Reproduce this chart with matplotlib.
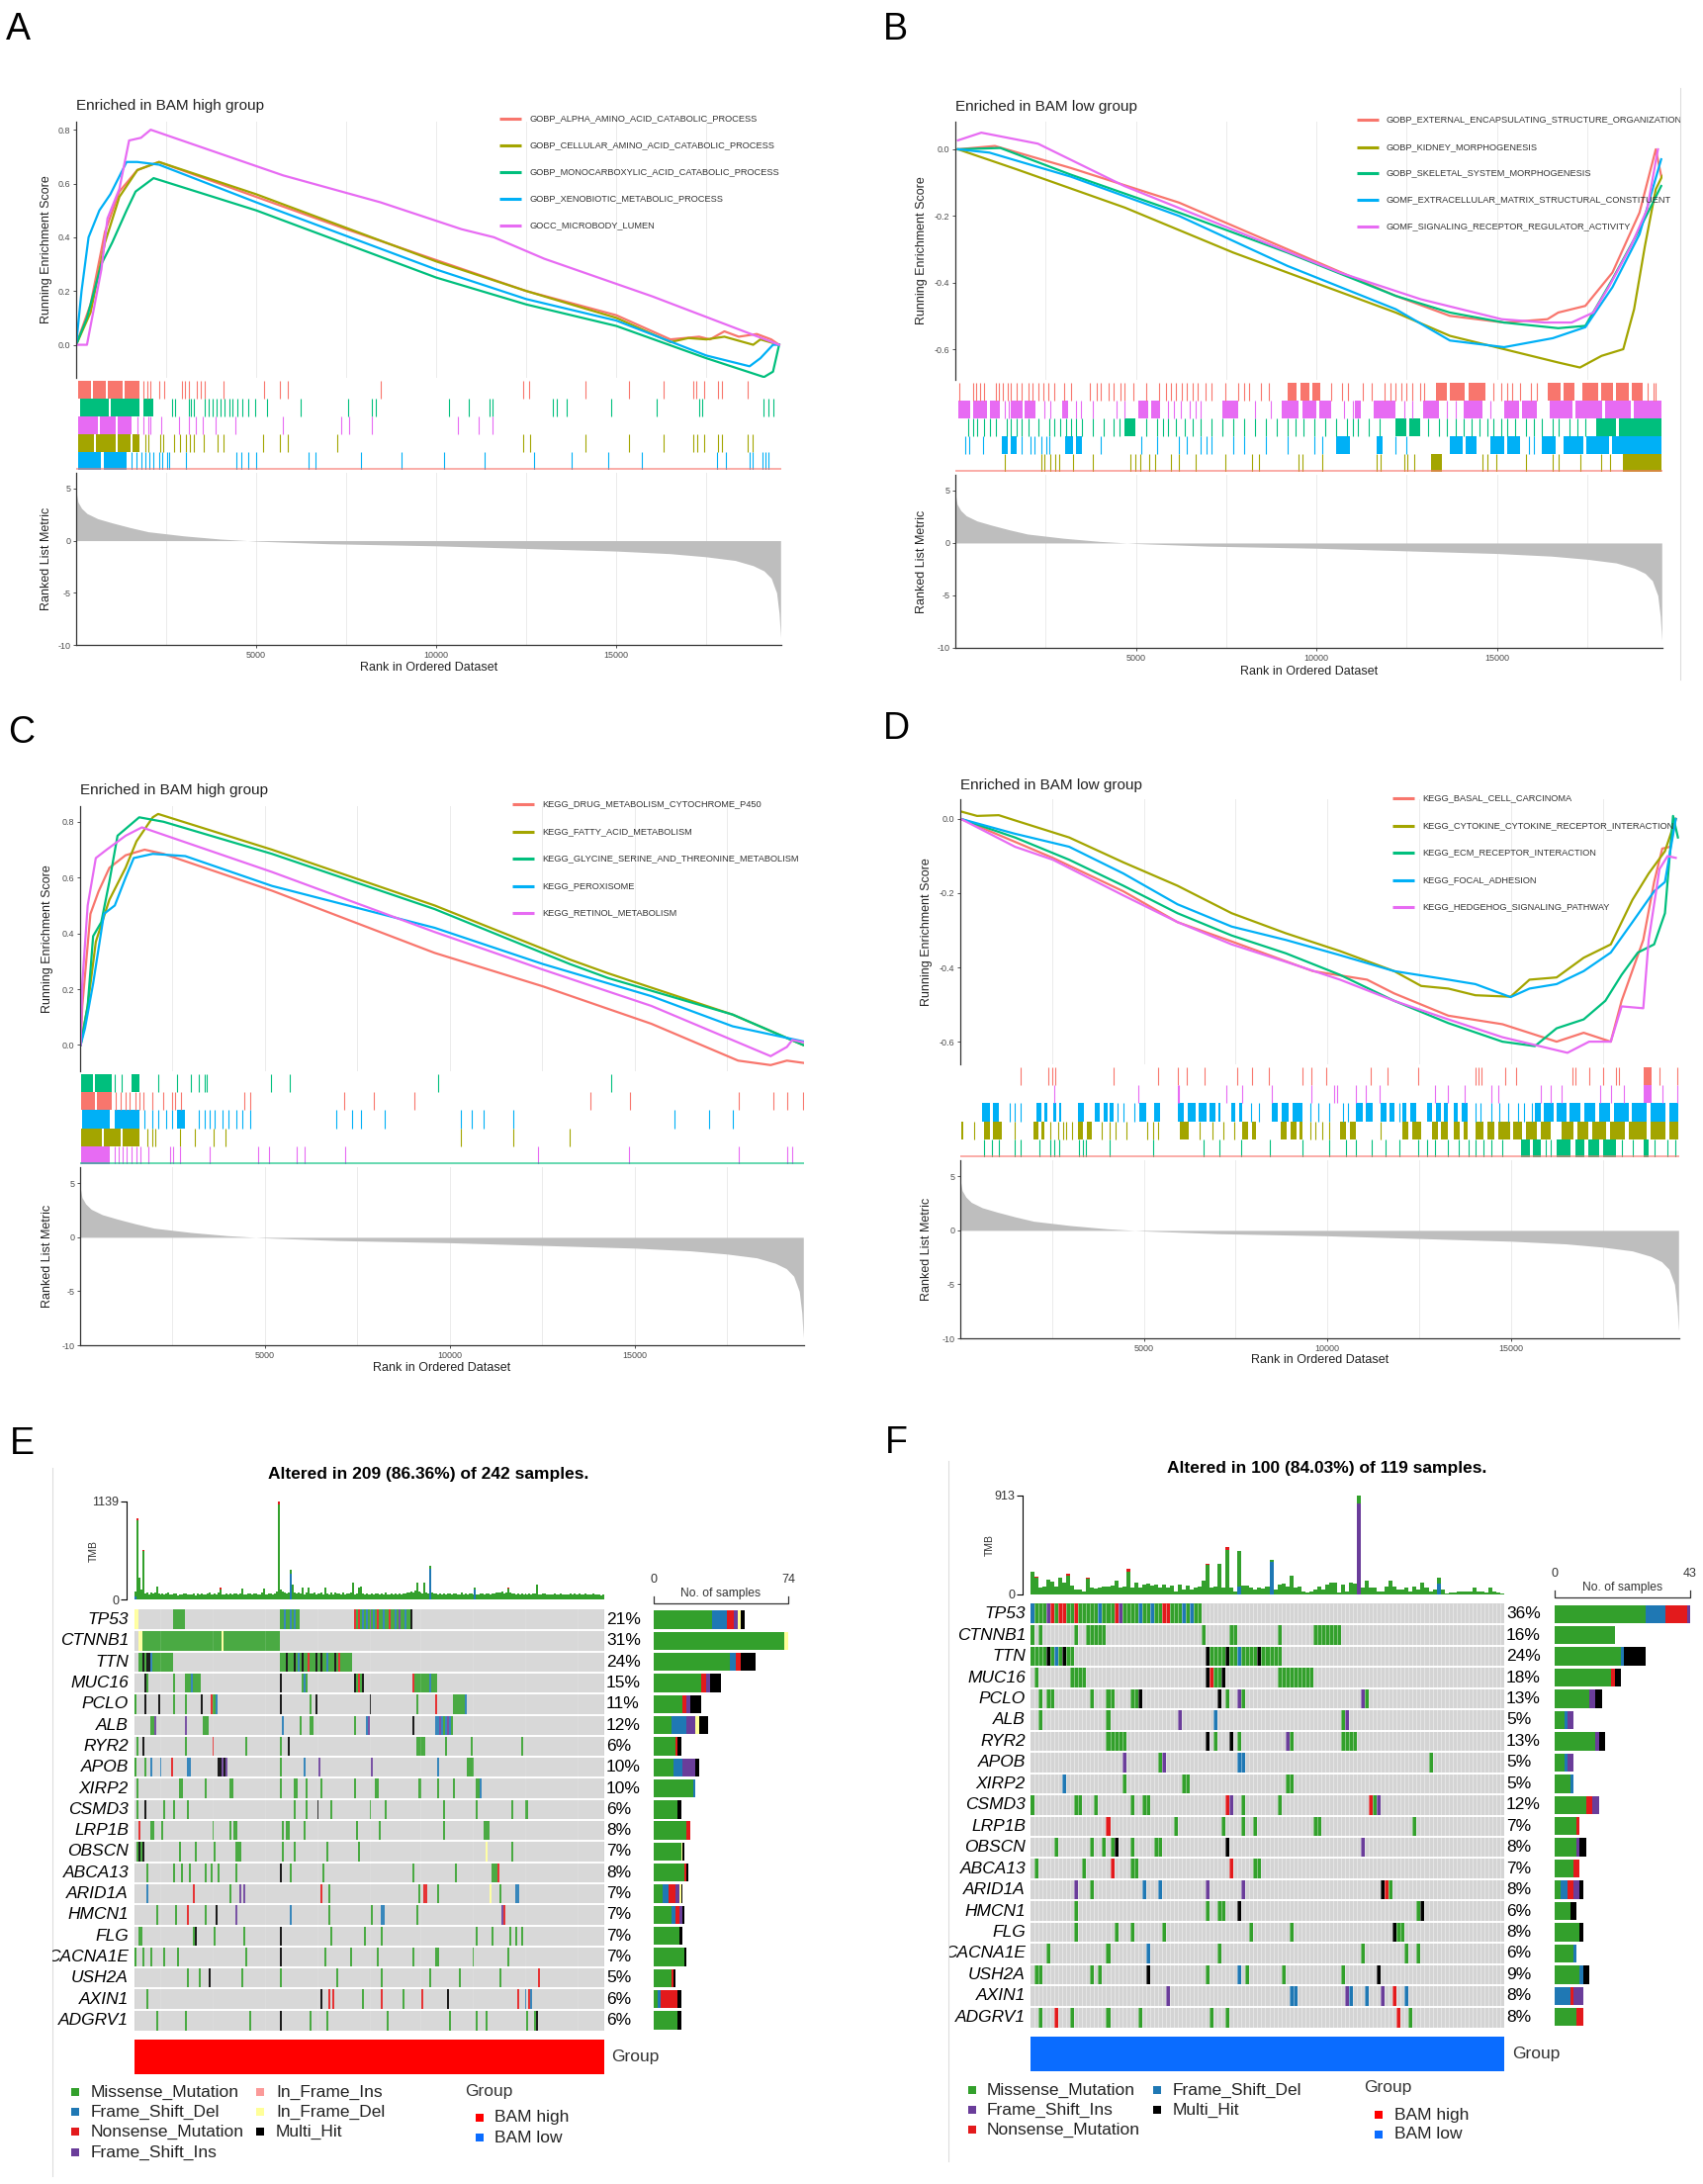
import numpy as np
import matplotlib
matplotlib.use('Agg')
import matplotlib.pyplot as plt
from matplotlib.patches import Rectangle
from matplotlib.colors import ListedColormap
from matplotlib.transforms import Bbox, TransformedBbox

plt.rcParams['font.family'] = ['Liberation Sans', 'DejaVu Sans']
plt.rcParams['axes.unicode_minus'] = False

# ---------------- GSEA data ----------------
HUE = ['#F8766D', '#A3A500', '#00BF7D', '#00B0F6', '#E76BF3']
GRID_X = [2500, 5000, 7500, 10000, 12500, 15000, 17500]
RANK_N = 19580
RANK_X = [0, 50, 150, 300, 600, 1000, 1500, 2000, 3000, 4000, 5000, 7000, 10000,
          13000, 15000, 16500, 17500, 18300, 18800, 19100, 19300, 19450, 19520, 19560]
RANK_Y = [4.7, 3.7, 3.1, 2.6, 2.1, 1.7, 1.25, 0.85, 0.45, 0.15, -0.05, -0.3, -0.5,
          -0.8, -1.0, -1.25, -1.55, -1.9, -2.4, -2.9, -3.6, -5.0, -7.0, -9.3]

A_TERMS = ['GOBP_ALPHA_AMINO_ACID_CATABOLIC_PROCESS', 'GOBP_CELLULAR_AMINO_ACID_CATABOLIC_PROCESS',
           'GOBP_MONOCARBOXYLIC_ACID_CATABOLIC_PROCESS', 'GOBP_XENOBIOTIC_METABOLIC_PROCESS',
           'GOCC_MICROBODY_LUMEN']
A_ES_X = [[0, 400, 800, 1200, 1700, 2300, 7500, 12500, 15000, 16500, 17300, 17600, 18000, 18400, 18900, 19300, 19520],
          [0, 400, 800, 1200, 1700, 2300, 5000, 10000, 12500, 15000, 16500, 17000, 17500, 18000, 18800, 19000, 19520],
          [0, 300, 700, 1000, 1400, 1650, 2150, 5000, 10000, 12500, 15000, 17500, 19100, 19350, 19520],
          [0, 150, 345, 645, 950, 1400, 1700, 2300, 5000, 10000, 12500, 15000, 17500, 18700, 19000, 19350, 19520],
          [0, 300, 700, 870, 1200, 1470, 1800, 2070, 5750, 8450, 10700, 11600, 13000, 16000, 19520]]
A_ES_Y = [[0.0, 0.15, 0.42, 0.57, 0.65, 0.68, 0.43, 0.2, 0.11, 0.02, 0.03, 0.02, 0.05, 0.03, 0.04, 0.02, 0.0],
          [0.0, 0.12, 0.38, 0.55, 0.65, 0.68, 0.56, 0.31, 0.2, 0.1, 0.01, 0.025, 0.02, 0.03, 0.0, 0.02, 0.0],
          [0.0, 0.1, 0.3, 0.38, 0.5, 0.57, 0.62, 0.5, 0.25, 0.15, 0.07, -0.05, -0.12, -0.1, 0.0],
          [0.0, 0.2, 0.4, 0.5, 0.56, 0.68, 0.68, 0.67, 0.53, 0.28, 0.17, 0.09, -0.04, -0.08, -0.05, 0.0, 0.0],
          [0.0, 0.0, 0.28, 0.47, 0.58, 0.76, 0.77, 0.8, 0.63, 0.53, 0.43, 0.40, 0.32, 0.18, 0.0]]
A_TICKS = [[1875, 1965, 2070, 2300, 2440, 2940, 3015, 3120, 3345, 3450, 3570, 4095, 5220, 5670, 5865, 8445,
            12420, 12570, 14145, 15345, 16320, 17145, 17220, 17445, 17820, 17940, 18645],
           [1920, 1995, 2340, 2415, 2715, 2895, 3045, 3165, 3270, 3540, 3915, 4095, 5190, 5670, 5865, 7245,
            12420, 12600, 14145, 15345, 16320, 17145, 17250, 17445, 17820, 17940, 18645, 18795],
           [2670, 2745, 3120, 3195, 3270, 3570, 3675, 3795, 3900, 4020, 4125, 4245, 4350, 4470, 4620, 4770,
            4965, 5295, 6240, 7545, 8220, 8325, 10365, 10890, 11490, 11550, 13245, 13350, 13620, 14850,
            16125, 17295, 17370, 19095, 19215, 19365],
           [1545, 1665, 1815, 1920, 2025, 2145, 2295, 2400, 2520, 2595, 3045, 4440, 4590, 4770, 4995, 6465,
            6645, 7920, 9045, 10215, 11340, 12720, 13770, 14775, 15720, 17790, 18045, 18690, 18795, 19065,
            19140, 19215],
           [1695, 1875, 1995, 2070, 2370, 2865, 3120, 3315, 3525, 3870, 4425, 5745, 7350, 7590, 8220, 10590,
            11190, 11550]]
A_SPANS = [[(50, 420), (470, 820), (870, 1300), (1350, 1770)],
           [(45, 500), (560, 1100), (1150, 1500), (1560, 1770)],
           [(120, 900), (960, 1770), (1875, 2145)],
           [(45, 700), (760, 1395)],
           [(45, 600), (650, 1100), (1150, 1545)]]
A_ROWS = [0, 2, 4, 1, 3]

B_TERMS = ['GOBP_EXTERNAL_ENCAPSULATING_STRUCTURE_ORGANIZATION', 'GOBP_KIDNEY_MORPHOGENESIS',
           'GOBP_SKELETAL_SYSTEM_MORPHOGENESIS', 'GOMF_EXTRACELLULAR_MATRIX_STRUCTURAL_CONSTITUENT',
           'GOMF_SIGNALING_RECEPTOR_REGULATOR_ACTIVITY']
B_ES_X = [[75, 1095, 3195, 6195, 9195, 12195, 13695, 15195, 16395, 16695, 17445, 18195, 18945, 19395, 19545],
          [75, 1695, 4695, 7695, 10695, 12195, 13695, 15195, 16695, 17295, 17895, 18495, 18795, 19095, 19395, 19575],
          [75, 1245, 3195, 6195, 9195, 12195, 13695, 15195, 16695, 17445, 18195, 18945, 19545],
          [75, 945, 3195, 6195, 9195, 12195, 13695, 15195, 16545, 17445, 18195, 18945, 19545],
          [75, 720, 2285, 4675, 7660, 10645, 12885, 15125, 16320, 17065, 17665, 18110, 18710, 19155, 19455]]
B_ES_Y = [[0.0, 0.01, -0.056, -0.16, -0.3, -0.44, -0.5, -0.52, -0.51, -0.49, -0.47, -0.37, -0.19, 0.0, -0.08],
          [0.0, -0.06, -0.175, -0.31, -0.43, -0.49, -0.56, -0.6, -0.64, -0.655, -0.62, -0.6, -0.48, -0.29, -0.12, -0.08],
          [0.0, 0.004, -0.076, -0.19, -0.31, -0.44, -0.49, -0.52, -0.537, -0.53, -0.39, -0.24, -0.11],
          [0.0, -0.01, -0.082, -0.2, -0.35, -0.48, -0.574, -0.594, -0.567, -0.534, -0.414, -0.255, -0.03],
          [0.027, 0.05, 0.017, -0.11, -0.24, -0.37, -0.45, -0.51, -0.52, -0.52, -0.49, -0.41, -0.29, -0.18, 0.0]]
B_TICKS = [[120, 495, 570, 675, 795, 1125, 1215, 1320, 1440, 1545, 1695, 1845, 2025, 2145, 2295, 2445, 2565,
            2745, 3015, 3195, 3720, 3915, 4020, 4245, 4395, 4575, 4695, 4920, 5295, 5640, 5820, 5970, 6120,
            6270, 6420, 6570, 6720, 6915, 7095, 7470, 7845, 7995, 8145, 8475, 8670, 10395, 10695, 10875,
            11295, 11520, 11895, 12045, 12195, 12345, 12495, 12645, 12870, 12975, 14895, 15120, 15270, 15420,
            15645, 15945, 16095, 19170, 19320, 19395],
           [1365, 2370, 2475, 2625, 2775, 2865, 3270, 3795, 4845, 4995, 5115, 5370, 5520, 5970, 6195, 6645,
            7470, 8220, 8415, 9495, 9615, 10170, 11670, 11775, 12420, 12525, 12720, 14595, 14745, 14970,
            15795, 16545, 16695, 17295, 17895, 18120],
           [345, 495, 615, 795, 945, 1125, 1425, 1545, 1695, 1845, 2025, 2295, 2595, 2745, 2895, 3075, 3195,
            3345, 3495, 3795, 4095, 4395, 4545, 5295, 5595, 5745, 5895, 6120, 6345, 6570, 6795, 7095, 7395,
            7695, 7995, 8295, 8595, 8895, 9195, 9420, 9645, 9945, 10245, 10545, 10845, 10995, 11145, 11445,
            11745, 13095, 13395, 13620, 13845, 14070, 14295, 14520, 14745, 14895, 15120, 15270, 15495,
            15795, 16020, 16245, 16545, 16695, 16995, 17220, 17445],
           [270, 375, 765, 1845, 2070, 2190, 2370, 2520, 2595, 4020, 5145, 5595, 6195, 6420, 6795, 6945,
            7095, 7695, 7995, 8595, 9195, 9945, 10170, 12195, 12495, 15870, 16020],
           [1365, 1470, 2475, 2625, 3345, 3465, 3795, 4470, 4695, 5895, 6045, 6240, 6495, 6645, 6795, 8295,
            8745, 10770, 10995, 12420, 12645, 13620, 13845, 14820]]
B_SPANS = [[(9195, 9450), (9550, 9800), (9880, 10095), (13320, 13600), (13700, 14100), (14200, 14670),
            (16395, 16750), (16850, 17145), (17370, 17800), (17880, 18200), (18300, 18650), (18720, 19020)],
           [(13170, 13470), (18495, 19545)],
           [(4695, 4995), (12195, 12500), (12580, 12870), (17745, 18300), (18380, 19560)],
           [(1275, 1450), (1530, 1695), (3045, 3250), (3330, 3495), (10545, 10920), (11670, 11820),
            (13695, 14050), (14130, 14445), (14820, 15200), (15280, 15645), (16245, 16620), (16845, 17400),
            (17480, 18100), (18180, 19560)],
           [(75, 420), (495, 870), (945, 1245), (1545, 1850), (1920, 2220), (2970, 3120), (5070, 5350),
            (5430, 5670), (7395, 7845), (9045, 9500), (9600, 10000), (10080, 10395), (11070, 11220),
            (11595, 12195), (12945, 13395), (14070, 14595), (15195, 15600), (15680, 16095), (16470, 17100),
            (17180, 17900), (17980, 18700), (18780, 19560)]]
B_ROWS = [0, 4, 2, 3, 1]

C_TERMS = ['KEGG_DRUG_METABOLISM_CYTOCHROME_P450', 'KEGG_FATTY_ACID_METABOLISM',
           'KEGG_GLYCINE_SERINE_AND_THREONINE_METABOLISM', 'KEGG_PEROXISOME', 'KEGG_RETINOL_METABOLISM']
C_ES_X = [[15, 59, 279, 498, 792, 1231, 1745, 2258, 5190, 9590, 12520, 15452, 17797, 18677, 19116, 19556],
          [15, 205, 425, 790, 1230, 1525, 1965, 2110, 5190, 9590, 13250, 14280, 17650, 19556],
          [15, 205, 352, 572, 792, 1012, 1598, 2258, 5190, 9590, 13250, 14280, 17650, 19556],
          [15, 132, 352, 645, 938, 1231, 1451, 1964, 2844, 5190, 9590, 12520, 15452, 17651, 19556],
          [15, 59, 205, 425, 718, 1231, 1671, 5190, 9590, 12520, 15452, 18677, 19116, 19263, 19556]]
C_ES_Y = [[0.0, 0.14, 0.47, 0.55, 0.635, 0.68, 0.70, 0.685, 0.553, 0.33, 0.21, 0.076, -0.056, -0.072, -0.056, -0.064],
          [0.0, 0.14, 0.37, 0.52, 0.635, 0.73, 0.816, 0.828, 0.70, 0.50, 0.306, 0.257, 0.109, 0.0],
          [0.0, 0.14, 0.39, 0.44, 0.586, 0.75, 0.816, 0.80, 0.685, 0.487, 0.29, 0.24, 0.109, 0.0],
          [0.0, 0.06, 0.22, 0.47, 0.5, 0.6, 0.67, 0.685, 0.677, 0.57, 0.42, 0.29, 0.175, 0.067, 0.013],
          [0.0, 0.22, 0.5, 0.67, 0.70, 0.75, 0.78, 0.62, 0.405, 0.27, 0.14, -0.04, -0.007, 0.018, 0.01]]
C_TICKS = [[968, 1085, 1231, 1349, 1495, 1598, 1700, 1964, 2258, 2478, 2580, 2727, 4427, 4603, 7139, 7946,
            9045, 13810, 14865, 17827, 18750, 19116, 19556],
           [1818, 1964, 2038, 2697, 3108, 3606, 3944, 10291, 11713, 13253],
           [938, 1114, 2111, 2624, 2991, 3211, 3357, 3430, 5160, 5673, 9676, 14352],
           [1745, 1964, 2111, 2331, 2478, 3211, 3357, 3504, 3650, 3841, 4017, 4237, 4383, 4603, 6919, 7359,
            7609, 8239, 10291, 10585, 10907, 11713, 16067, 17020, 17651],
           [938, 1056, 1158, 1261, 1378, 1525, 1642, 1847, 2434, 2522, 2697, 3504, 4823, 5116, 5849, 6069,
            7169, 12373, 14836, 17827, 19116, 19263]]
C_SPANS = [[(15, 400), (450, 865)],
           [(15, 600), (650, 1100), (1150, 1598)],
           [(15, 350), (400, 865), (1378, 1613)],
           [(59, 792), (938, 1598), (2624, 2844)],
           [(15, 792)]]
C_ROWS = [2, 0, 3, 1, 4]

D_TERMS = ['KEGG_BASAL_CELL_CARCINOMA', 'KEGG_CYTOKINE_CYTOKINE_RECEPTOR_INTERACTION',
           'KEGG_ECM_RECEPTOR_INTERACTION', 'KEGG_FOCAL_ADHESION', 'KEGG_HEDGEHOG_SIGNALING_PATHWAY']
D_ES_X = [[15, 2522, 4440, 5915, 7390, 9602, 11077, 11815, 13290, 14765, 16240, 16977, 17715, 18010, 18600,
           18895, 19116, 19337, 19485],
          [15, 457, 1047, 1490, 2965, 4440, 5915, 7390, 8865, 10340, 11815, 12552, 13290, 14027, 14986, 15502,
           16240, 16977, 17715, 18305, 18747, 19190, 19485],
          [15, 1490, 2965, 4440, 5915, 7390, 8865, 10340, 11815, 13290, 14765, 15650, 16240, 16977, 17567,
           18010, 18452, 18895, 19190, 19411, 19544],
          [15, 752, 1490, 2965, 4440, 5915, 7390, 8865, 10340, 11815, 13290, 14027, 14986, 15502, 16240, 16977,
           17715, 18305, 18895, 19190, 19485],
          [15, 1490, 2522, 4440, 5915, 7390, 8865, 10340, 11815, 13290, 14765, 16535, 17125, 17715, 18010,
           18600, 18747, 19042, 19263, 19485]]
D_ES_Y = [[0.0, -0.105, -0.195, -0.278, -0.33, -0.41, -0.433, -0.47, -0.53, -0.553, -0.6, -0.576, -0.6, -0.49,
           -0.326, -0.17, -0.08, -0.075, 0.0],
          [0.02, 0.008, 0.01, -0.004, -0.05, -0.117, -0.18, -0.254, -0.308, -0.356, -0.41, -0.45, -0.457, -0.475,
           -0.479, -0.433, -0.427, -0.374, -0.338, -0.218, -0.147, -0.087, 0.0],
          [0.0, -0.05, -0.11, -0.18, -0.254, -0.314, -0.362, -0.42, -0.49, -0.55, -0.6, -0.612, -0.564, -0.54,
           -0.49, -0.42, -0.36, -0.338, -0.254, 0.008, -0.05],
          [0.0, -0.02, -0.04, -0.075, -0.147, -0.23, -0.29, -0.326, -0.367, -0.41, -0.433, -0.445, -0.48, -0.457,
           -0.445, -0.41, -0.36, -0.278, -0.195, -0.17, 0.0],
          [0.0, -0.075, -0.11, -0.206, -0.278, -0.338, -0.385, -0.433, -0.49, -0.54, -0.588, -0.63, -0.6, -0.6,
           -0.505, -0.51, -0.326, -0.135, -0.1, -0.105]]
D_TICKS = [[1637, 2404, 2493, 2596, 4174, 5398, 5915, 6180, 6652, 7537, 7950, 8393, 9307, 9573, 9971, 11180,
            11638, 12478, 14027, 14101, 14204, 14838, 15133, 16682, 16756, 17125, 17493, 17862, 17936, 19042,
            19514],
           [383, 1490, 2449, 2670, 2788, 2891, 3039, 3850, 4071, 4219, 4514, 5103, 5251, 5398, 6505, 6873,
            7169, 7464, 9528, 9676, 9868, 10045, 11446],
           [649, 870, 1047, 1490, 1637, 2154, 2449, 2552, 2699, 3230, 3334, 3407, 4071, 5251, 6623, 7050, 7655,
            8422, 9307, 10045, 10517, 10782, 11195, 11594, 11962, 12478, 12700, 12921, 13290, 13585, 13850,
            14027, 14249, 14470, 14765, 15945, 16092, 18010, 18305, 18895, 19263, 19485],
           [1342, 1490, 1637, 4292, 4440, 4735, 7906, 8127, 9528, 9750, 10045, 10413, 10561, 11962, 14027,
            14175, 14470, 14691, 14912, 15178, 15355, 15576],
           [2552, 4853, 5915, 5959, 7242, 7685, 8496, 9573, 10192, 10266, 10782, 11047, 11416, 12921, 13290,
            13732, 14470, 14647, 15797, 16092, 16387, 17419, 17715, 18084, 19116, 19514]]
D_SPANS = [[(18600, 18821)],
           [(15, 90), (650, 800), (900, 1121), (2006, 2120), (2200, 2301), (3212, 3350), (3450, 3581),
            (5988, 6210), (7685, 7850), (7950, 8053), (8717, 8900), (9000, 9150), (9230, 9307), (10340, 10500),
            (10600, 10782), (12035, 12200), (12300, 12552), (12847, 13000), (13100, 13290), (13437, 13600),
            (13700, 13806), (14027, 14250), (14350, 14550), (14650, 14986), (15060, 15300), (15400, 15700),
            (15800, 16092), (16387, 16700), (16800, 17100), (17200, 17600), (17700, 18100), (18200, 18700),
            (18800, 19200), (19300, 19560)],
           [(15281, 15500), (15600, 15797), (16240, 16609), (16756, 17000), (17100, 17400), (17500, 17862),
            (18600, 18747)],
           [(605, 800), (900, 1047), (2080, 2200), (2280, 2380), (2522, 2620), (2680, 2744), (3212, 3360),
            (3650, 3800), (3900, 4000), (4080, 4174), (4883, 5051), (5281, 5428), (5915, 6100), (6200, 6420),
            (6500, 6700), (6800, 6950), (7020, 7095), (7390, 7500), (7600, 7685), (8496, 8650), (8750, 8950),
            (9050, 9307), (10782, 10950), (11050, 11225), (11446, 11600), (11700, 11815), (12035, 12150),
            (12250, 12405), (12700, 12850), (12950, 13100), (13180, 13290), (13437, 13550), (13650, 13806),
            (15650, 15800), (15900, 16167), (16240, 16500), (16600, 16900), (17000, 17300), (17400, 17700),
            (17800, 18200), (18300, 18700), (18800, 19200), (19300, 19560)],
           [(18600, 18821)]]
D_ROWS = [0, 4, 3, 1, 2]

# ---------------- oncoplot data ----------------
GENES = ['TP53', 'CTNNB1', 'TTN', 'MUC16', 'PCLO', 'ALB', 'RYR2', 'APOB', 'XIRP2', 'CSMD3',
         'LRP1B', 'OBSCN', 'ABCA13', 'ARID1A', 'HMCN1', 'FLG', 'CACNA1E', 'USH2A', 'AXIN1', 'ADGRV1']
VC_NAMES = ['Missense_Mutation', 'Frame_Shift_Del', 'Nonsense_Mutation', 'Frame_Shift_Ins',
            'In_Frame_Ins', 'In_Frame_Del', 'Multi_Hit']
CODES = 'MDNIidH'
VC_COL = ['#33A02C', '#1F78B4', '#E31A1C', '#6A3D9A', '#FB9A99', '#FFFF99', '#000000']

E_PCT = ['21%', '31%', '24%', '15%', '11%', '12%', '6%', '10%', '10%', '6%',
         '8%', '7%', '8%', '7%', '7%', '7%', '7%', '5%', '6%', '6%']
F_PCT = ['36%', '16%', '24%', '18%', '13%', '5%', '13%', '5%', '5%', '12%',
         '7%', '8%', '7%', '8%', '6%', '8%', '6%', '9%', '8%', '8%']

# side bar counts per gene, order M, D, N, I, i, d, H
E_SIDE = [[32, 8, 4, 2, 0, 2, 2], [72, 0, 0, 0, 0, 2, 0], [42, 3, 3, 0, 0, 0, 8], [26, 0, 3, 2, 0, 0, 6],
          [16, 0, 2, 2, 0, 0, 6], [10, 8, 0, 5, 0, 2, 5], [12, 0, 1, 0, 0, 0, 2], [11, 5, 0, 7, 0, 0, 2],
          [22, 1, 0, 0, 0, 0, 0], [13, 0, 0, 0, 0, 0, 2], [18, 0, 2, 0, 0, 0, 0], [15, 0, 0, 0, 0, 1, 1],
          [17, 0, 1, 0, 0, 0, 1], [5, 3, 4, 2, 0, 1, 1], [10, 2, 2, 2, 0, 0, 1], [14, 0, 0, 0, 0, 0, 2],
          [17, 0, 0, 0, 0, 0, 1], [10, 0, 1, 0, 0, 0, 1], [2, 2, 9, 0, 0, 0, 2], [13, 0, 0, 0, 0, 0, 2]]
F_SIDE = [[29, 6, 7, 1, 0, 0, 0], [19, 0, 0, 0, 0, 0, 0], [21, 1, 0, 0, 0, 0, 7], [18, 0, 1, 0, 0, 0, 2],
          [11, 0, 0, 2, 0, 0, 2], [3, 1, 0, 2, 0, 0, 0], [13, 0, 0, 1, 0, 0, 2], [3, 1, 0, 2, 0, 0, 0],
          [5, 1, 0, 0, 0, 0, 0], [10, 0, 2, 2, 0, 0, 0], [7, 0, 1, 0, 0, 0, 0], [7, 0, 0, 1, 0, 0, 2],
          [6, 0, 2, 0, 0, 0, 0], [2, 2, 2, 2, 0, 0, 1], [5, 0, 0, 0, 0, 0, 2], [8, 0, 0, 0, 0, 0, 1],
          [6, 1, 0, 0, 0, 0, 0], [8, 1, 0, 0, 0, 0, 2], [0, 5, 1, 3, 0, 0, 0], [7, 0, 2, 0, 0, 0, 0]]

# mutation runs per gene: (first sample column, number of columns, type)
E_RUNS = [
    [(0, 2, 'd'), (20, 6, 'M'), (75, 10, 'M'), (77, 1, 'D'), (80, 1, 'D'), (82, 1, 'D'), (113, 30, 'M'),
     (113, 1, 'N'), (115, 1, 'N'), (117, 1, 'D'), (119, 1, 'D'), (121, 1, 'I'), (123, 1, 'D'), (125, 1, 'N'),
     (128, 1, 'D'), (131, 1, 'N'), (134, 1, 'D'), (136, 1, 'I'), (139, 1, 'D'), (142, 1, 'H')],
    [(2, 2, 'd'), (4, 71, 'M'), (45, 1, 'd')],
    [(2, 18, 'M'), (4, 1, 'H'), (6, 2, 'H'), (8, 1, 'D'), (75, 37, 'M'), (78, 1, 'H'), (82, 1, 'H'),
     (84, 1, 'D'), (86, 1, 'H'), (89, 1, 'N'), (93, 1, 'H'), (96, 1, 'H'), (99, 1, 'D'), (103, 1, 'H'),
     (105, 1, 'N')],
    [(5, 1, 'H'), (6, 1, 'M'), (20, 1, 'M'), (26, 8, 'M'), (29, 1, 'D'), (75, 1, 'H'), (86, 3, 'M'),
     (87, 1, 'D'), (113, 5, 'M'), (113, 1, 'H'), (115, 1, 'N'), (117, 1, 'H'), (143, 13, 'M'), (143, 1, 'N'),
     (152, 1, 'D')],
    [(0, 1, 'M'), (5, 1, 'H'), (12, 1, 'H'), (20, 1, 'M'), (26, 1, 'M'), (34, 1, 'H'), (39, 1, 'N'),
     (40, 3, 'M'), (42, 1, 'D'), (75, 1, 'H'), (90, 1, 'M'), (93, 1, 'H'), (121, 1, 'H'), (145, 1, 'M'),
     (155, 1, 'N'), (164, 6, 'M'), (170, 1, 'D')],
    [(8, 2, 'M'), (10, 1, 'I'), (26, 1, 'I'), (35, 3, 'M'), (76, 1, 'D'), (85, 1, 'M'), (90, 2, 'M'),
     (113, 1, 'M'), (119, 1, 'D'), (120, 1, 'I'), (143, 1, 'H'), (155, 9, 'D'), (157, 1, 'I'), (159, 1, 'M'),
     (161, 1, 'I'), (163, 1, 'M')],
    [(1, 1, 'M'), (4, 1, 'H'), (26, 1, 'M'), (40, 1, 'N'), (57, 1, 'M'), (75, 1, 'M'), (79, 1, 'H'),
     (145, 5, 'M'), (160, 1, 'M'), (173, 1, 'M'), (199, 1, 'M')],
    [(0, 1, 'M'), (5, 1, 'M'), (8, 1, 'D'), (13, 1, 'D'), (19, 1, 'N'), (27, 2, 'D'), (43, 5, 'H'),
     (45, 1, 'I'), (47, 1, 'I'), (75, 1, 'M'), (87, 1, 'D'), (95, 1, 'I'), (122, 1, 'I'), (156, 1, 'D'),
     (171, 4, 'M')],
    [(1, 1, 'M'), (23, 2, 'M'), (36, 1, 'M'), (49, 2, 'M'), (75, 1, 'M'), (82, 2, 'M'), (88, 1, 'M'),
     (96, 1, 'M'), (113, 1, 'M'), (124, 2, 'M'), (146, 2, 'M'), (156, 1, 'M'), (164, 1, 'M'), (176, 3, 'M'),
     (178, 1, 'D')],
    [(1, 1, 'M'), (5, 1, 'H'), (15, 1, 'M'), (20, 1, 'M'), (27, 1, 'M'), (82, 1, 'M'), (88, 1, 'M'),
     (94, 1, 'H'), (101, 1, 'M'), (121, 1, 'M'), (129, 1, 'M'), (159, 1, 'M'), (176, 1, 'M'), (194, 1, 'M'),
     (201, 2, 'M')],
    [(2, 1, 'N'), (8, 2, 'M'), (14, 1, 'M'), (40, 1, 'M'), (49, 1, 'M'), (51, 2, 'M'), (76, 1, 'M'),
     (78, 2, 'M'), (87, 1, 'M'), (114, 1, 'M'), (126, 1, 'M'), (159, 1, 'M'), (180, 3, 'M')],
    [(1, 4, 'M'), (2, 1, 'H'), (4, 1, 'H'), (23, 1, 'M'), (31, 1, 'M'), (41, 1, 'M'), (52, 3, 'M'),
     (76, 1, 'M'), (82, 1, 'M'), (99, 1, 'M'), (115, 1, 'M'), (181, 1, 'd'), (194, 1, 'M')],
    [(6, 1, 'M'), (20, 1, 'M'), (24, 1, 'M'), (28, 1, 'M'), (36, 1, 'M'), (39, 1, 'M'), (43, 1, 'M'),
     (52, 1, 'M'), (75, 1, 'H'), (80, 1, 'M'), (97, 1, 'M'), (143, 1, 'M'), (165, 1, 'M'), (184, 4, 'M'),
     (187, 1, 'N')],
    [(6, 1, 'D'), (30, 1, 'N'), (49, 1, 'M'), (54, 1, 'I'), (56, 1, 'I'), (96, 1, 'N'), (100, 1, 'M'),
     (146, 1, 'M'), (149, 2, 'N'), (156, 1, 'M'), (183, 1, 'd'), (188, 1, 'M'), (196, 2, 'D')],
    [(11, 1, 'M'), (21, 1, 'M'), (27, 1, 'N'), (36, 1, 'M'), (42, 1, 'H'), (52, 1, 'I'), (80, 1, 'D'),
     (100, 1, 'M'), (122, 1, 'M'), (127, 2, 'D'), (145, 1, 'M'), (189, 1, 'I'), (190, 1, 'N')],
    [(2, 2, 'M'), (30, 1, 'M'), (31, 1, 'H'), (41, 1, 'M'), (56, 1, 'M'), (75, 1, 'H'), (101, 1, 'M'),
     (118, 1, 'M'), (127, 1, 'M'), (176, 1, 'M'), (184, 1, 'M'), (193, 1, 'M'), (196, 1, 'M'), (199, 1, 'M')],
    [(0, 1, 'M'), (4, 1, 'M'), (8, 1, 'M'), (15, 1, 'M'), (22, 1, 'M'), (57, 1, 'M'), (75, 1, 'H'),
     (98, 1, 'M'), (111, 1, 'M'), (125, 1, 'M'), (143, 1, 'M'), (155, 2, 'M'), (174, 1, 'M'), (192, 1, 'M')],
    [(27, 1, 'M'), (33, 1, 'M'), (38, 1, 'H'), (55, 1, 'M'), (75, 1, 'M'), (104, 1, 'M'), (127, 1, 'M'),
     (152, 1, 'M'), (167, 1, 'M'), (188, 1, 'M'), (208, 1, 'N')],
    [(6, 1, 'M'), (96, 1, 'H'), (100, 1, 'N'), (102, 1, 'N'), (117, 1, 'M'), (127, 1, 'N'), (138, 1, 'M'),
     (148, 1, 'N'), (161, 1, 'H'), (197, 1, 'N'), (201, 1, 'D'), (203, 1, 'N'), (204, 1, 'D')],
    [(11, 1, 'M'), (26, 1, 'M'), (59, 1, 'M'), (75, 1, 'H'), (90, 1, 'M'), (99, 1, 'M'), (130, 1, 'M'),
     (162, 1, 'M'), (176, 1, 'M'), (181, 1, 'M'), (202, 1, 'M'), (206, 1, 'M'), (207, 1, 'H')],
]
F_RUNS = [
    [(0, 43, 'M'), (0, 1, 'D'), (4, 1, 'I'), (5, 1, 'N'), (7, 1, 'N'), (8, 1, 'N'), (11, 1, 'N'), (17, 1, 'D'),
     (21, 1, 'N'), (22, 1, 'I'), (27, 1, 'D'), (30, 1, 'D'), (33, 1, 'N'), (34, 1, 'N'), (38, 1, 'D'), (40, 1, 'D')],
    [(0, 1, 'M'), (2, 1, 'M'), (11, 1, 'M'), (14, 5, 'M'), (43, 1, 'M'), (50, 2, 'M'), (62, 1, 'M'), (71, 7, 'M')],
    [(0, 11, 'M'), (4, 1, 'H'), (6, 1, 'D'), (8, 1, 'H'), (44, 19, 'M'), (44, 1, 'H'), (49, 1, 'H'),
     (52, 1, 'D'), (57, 1, 'H')],
    [(1, 1, 'M'), (10, 4, 'M'), (44, 5, 'M'), (44, 1, 'H'), (45, 1, 'N'), (48, 1, 'H'), (62, 9, 'M')],
    [(2, 1, 'M'), (4, 2, 'M'), (15, 1, 'M'), (19, 2, 'M'), (25, 2, 'M'), (27, 1, 'H'), (47, 1, 'H'),
     (49, 1, 'M'), (52, 1, 'I'), (53, 1, 'M'), (83, 1, 'I'), (84, 1, 'M')],
    [(2, 1, 'M'), (19, 1, 'M'), (37, 1, 'I'), (46, 1, 'D'), (78, 1, 'M'), (79, 1, 'I')],
    [(19, 5, 'M'), (44, 1, 'H'), (46, 1, 'M'), (50, 1, 'H'), (52, 1, 'M'), (64, 1, 'I'), (65, 1, 'M'), (78, 4, 'M')],
    [(23, 1, 'I'), (32, 1, 'M'), (33, 1, 'I'), (52, 2, 'D'), (100, 1, 'M')],
    [(8, 1, 'D'), (23, 1, 'M'), (38, 2, 'M'), (64, 2, 'M')],
    [(0, 1, 'M'), (11, 2, 'M'), (16, 1, 'M'), (25, 1, 'M'), (28, 2, 'M'), (49, 1, 'N'), (50, 1, 'I'),
     (53, 1, 'M'), (62, 1, 'M'), (85, 1, 'N'), (86, 1, 'M'), (87, 1, 'I')],
    [(19, 1, 'N'), (36, 1, 'M'), (48, 1, 'M'), (53, 1, 'M'), (56, 1, 'M'), (71, 2, 'M'), (96, 1, 'M')],
    [(6, 1, 'M'), (15, 1, 'M'), (18, 1, 'M'), (20, 1, 'M'), (21, 1, 'H'), (25, 1, 'M'), (31, 2, 'M'),
     (49, 1, 'H'), (83, 1, 'I')],
    [(1, 1, 'M'), (13, 1, 'M'), (20, 1, 'N'), (25, 2, 'M'), (50, 1, 'N'), (56, 2, 'M')],
    [(11, 1, 'I'), (15, 1, 'M'), (28, 1, 'D'), (32, 1, 'D'), (44, 1, 'I'), (53, 1, 'I'), (88, 1, 'H'),
     (89, 1, 'N'), (90, 1, 'M')],
    [(11, 1, 'M'), (44, 1, 'M'), (47, 2, 'M'), (52, 1, 'H'), (97, 1, 'M'), (98, 1, 'H')],
    [(11, 1, 'M'), (21, 1, 'M'), (25, 1, 'M'), (33, 1, 'M'), (55, 1, 'M'), (65, 1, 'M'), (91, 1, 'H'), (92, 2, 'M')],
    [(4, 1, 'M'), (19, 1, 'M'), (29, 1, 'D'), (47, 1, 'M'), (83, 1, 'M'), (94, 1, 'M'), (97, 1, 'M')],
    [(1, 2, 'M'), (15, 1, 'M'), (17, 1, 'M'), (29, 1, 'H'), (44, 1, 'M'), (52, 1, 'D'), (54, 1, 'M'),
     (63, 1, 'M'), (78, 1, 'M'), (87, 1, 'H')],
    [(34, 1, 'I'), (65, 2, 'D'), (79, 1, 'I'), (80, 1, 'D'), (84, 1, 'D'), (88, 1, 'I'), (91, 1, 'N'), (94, 1, 'D')],
    [(2, 1, 'M'), (6, 1, 'N'), (10, 1, 'M'), (19, 1, 'M'), (27, 1, 'M'), (45, 1, 'M'), (49, 1, 'M'),
     (92, 1, 'N'), (95, 1, 'M')],
]

E_TMB = [90, 946, 250, 120, 579, 70, 85, 60, 75, 65, 80, 154, 70, 60, 72, 55, 68, 75, 62, 58,
         66, 72, 48, 60, 55, 70, 64, 58, 52, 61, 70, 45, 66, 58, 73, 60, 52, 68, 75, 57,
         63, 70, 58, 85, 135, 62, 55, 68, 60, 72, 57, 64, 70, 58, 66, 123, 60, 55, 72, 64,
         58, 66, 70, 55, 62, 80, 123, 60, 57, 65, 72, 60, 68, 90, 1139, 110, 95, 80, 70, 85,
         347, 174, 75, 68, 82, 70, 135, 62, 75, 135, 70, 66, 80, 58, 72, 64, 85, 60, 135, 70,
         62, 75, 58, 80, 66, 72, 60, 85, 57, 70, 64, 78, 193, 60, 72, 135, 150, 66, 58, 70,
         62, 55, 68, 60, 72, 64, 57, 66, 60, 75, 52, 62, 70, 58, 66, 60, 72, 55, 64, 68,
         75, 85, 90, 78, 100, 193, 88, 80, 72, 200, 85, 70, 394, 75, 66, 72, 60, 68, 62, 70,
         58, 66, 72, 60, 64, 70, 56, 62, 75, 60, 66, 58, 72, 64, 60, 143, 62, 58, 70, 64,
         60, 72, 66, 58, 64, 70, 80, 85, 75, 90, 70, 78, 143, 85, 70, 66, 60, 72, 58, 64,
         62, 70, 60, 66, 58, 64, 72, 174, 62, 58, 66, 70, 55, 62, 60, 58, 64, 52, 60, 66,
         58, 62, 55, 60, 64, 58, 66, 60, 55, 70, 62, 58, 64, 56, 60, 52, 66, 58, 54, 60,
         48, 55]
E_TMB_PARTS = [(0, 40, 'D'), (1, 20, 'N'), (4, 20, 'N'), (44, 15, 'N'), (74, 30, 'N'), (80, 300, 'D'),
               (152, 360, 'D'), (175, 110, 'D'), (192, 15, 'N')]
F_TMB = [213, 167, 67, 76, 137, 122, 76, 152, 106, 188,
         85, 46, 46, 30, 152, 61, 55, 61, 70, 76,
         82, 128, 61, 70, 237, 61, 106, 61, 91, 97,
         85, 91, 61, 91, 61, 85, 30, 91, 46, 85,
         46, 61, 76, 128, 280, 61, 76, 286, 61, 440,
         61, 30, 400, 85, 85, 61, 46, 61, 52, 76,
         319, 46, 91, 97, 76, 176, 61, 73, 30, 15,
         30, 46, 76, 46, 91, 106, 106, 15, 91, 30,
         106, 97, 913, 61, 128, 61, 67, 30, 30, 76,
         128, 76, 46, 46, 67, 30, 73, 46, 112, 67,
         30, 46, 152, 46, 6, 15, 18, 24, 24, 30,
         30, 67, 24, 24, 15, 61, 24, 15, 6]
F_TMB_PARTS = [(1, 15, 'N'), (9, 12, 'N'), (14, 10, 'N'), (24, 25, 'N'), (44, 10, 'N'), (49, 25, 'N'),
               (52, 75, 'D'), (60, 300, 'D'), (82, 836, 'I'), (102, 100, 'D')]

# ---------------- figure ----------------
W, H = 1722, 2208
fig = plt.figure(figsize=(W / 100, H / 100), dpi=100)


def px_axes(x0, y0, x1, y1):
    return fig.add_axes([x0 / W, 1 - y1 / H, (x1 - x0) / W, (y1 - y0) / H])


ov = px_axes(0, 0, W, H)
ov.set_xlim(0, W)
ov.set_ylim(H, 0)
ov.axis('off')
ov.set_zorder(10)
ov.autoscale(False)


def clip_text(t, x0, x1):
    t.set_clip_box(TransformedBbox(Bbox([[x0, 0], [x1, H]]), ov.transData))
    t.set_clip_on(True)


def gsea(box, title, title_y, terms, es_x, es_y, ticks, spans, rows, es_lim, es_ticks,
         leg, base_col, ylab_x, xlab_y, clip_right=None):
    x0, x1, t0, t1, h0, h1, r0, r1 = box
    ax1 = px_axes(x0, t0, x1, t1)
    for g in GRID_X:
        ax1.axvline(g, color='#EBEBEB', lw=0.7, zorder=0)
    for i in range(5):
        ax1.plot(es_x[i], es_y[i], color=HUE[i], lw=1.6)
    ax1.set_xlim(0, RANK_N)
    ax1.set_ylim(*es_lim)
    ax1.set_xticks([])
    ax1.set_yticks(es_ticks)
    ax1.set_yticklabels(['%.1f' % v for v in es_ticks])
    for s in ['top', 'right', 'bottom']:
        ax1.spines[s].set_visible(False)
    ax1.spines['left'].set_color('#333333')
    ax1.spines['left'].set_linewidth(0.9)
    ax1.tick_params(axis='y', labelsize=6.5, labelcolor='#4D4D4D', color='#333333',
                    length=2.5, width=0.6, pad=1.5)

    ax2 = px_axes(x0, h0, x1, h1)
    ax2.axis('off')
    ax2.set_xlim(0, RANK_N)
    ax2.set_ylim(0, 5)
    for j, t in enumerate(rows):
        yb = 4 - j
        ax2.vlines(ticks[t], yb, yb + 1, color=HUE[t], lw=0.8)
        for s, e in spans[t]:
            ax2.add_patch(Rectangle((s, yb), e - s, 1, facecolor=HUE[t], lw=0))
    ax2.axhline(0.03, color=base_col, lw=1.3, alpha=0.65)

    ax3 = px_axes(x0, r0, x1, r1)
    for g in GRID_X:
        ax3.axvline(g, color='#EBEBEB', lw=0.7, zorder=0)
    ax3.fill_between(RANK_X, 0, RANK_Y, color='#BEBEBE', lw=0)
    ax3.set_xlim(0, RANK_N)
    ax3.set_ylim(-10, 6.5)
    ax3.set_yticks([-10, -5, 0, 5])
    ax3.set_yticklabels(['-10', '-5', '0', '5'])
    ax3.set_xticks([5000, 10000, 15000])
    ax3.set_xticklabels(['5000', '10000', '15000'])
    for s in ['top', 'right']:
        ax3.spines[s].set_visible(False)
    for s in ['left', 'bottom']:
        ax3.spines[s].set_color('#333333')
        ax3.spines[s].set_linewidth(0.9)
    ax3.tick_params(labelsize=6.5, labelcolor='#4D4D4D', color='#333333', length=2.5, width=0.6, pad=1.5)

    ov.text(x0, title_y, title, fontsize=11, color='#222222', va='center', ha='left')
    ov.text(ylab_x, (t0 + t1) / 2, 'Running Enrichment Score', rotation=90, fontsize=9,
            color='#222222', ha='center', va='center')
    ov.text(ylab_x, (r0 + r1) / 2, 'Ranked List Metric', rotation=90, fontsize=9,
            color='#222222', ha='center', va='center')
    ov.text((x0 + x1) / 2, xlab_y, 'Rank in Ordered Dataset', fontsize=9, color='#222222',
            ha='center', va='center')
    lx0, lx1, tx, ys = leg
    for i, name in enumerate(terms):
        ov.plot([lx0, lx1], [ys[i], ys[i]], color=HUE[i], lw=2.2, solid_capstyle='butt')
        t = ov.text(tx, ys[i], name, fontsize=6.7, color='#333333', va='center', ha='left')
        if clip_right:
            clip_text(t, 0, clip_right)


gsea((77, 790, 123, 382, 385, 475, 478, 652), 'Enriched in BAM high group', 107,
     A_TERMS, A_ES_X, A_ES_Y, A_TICKS, A_SPANS, A_ROWS, (-0.123, 0.83), [0.0, 0.2, 0.4, 0.6, 0.8],
     (505, 527, 536, [120, 147, 174, 201, 228]), '#F8766D', 47, 675)
gsea((966, 1681, 123, 384, 387, 477, 480, 655), 'Enriched in BAM low group', 108,
     B_TERMS, B_ES_X, B_ES_Y, B_TICKS, B_SPANS, B_ROWS, (-0.692, 0.083), [-0.6, -0.4, -0.2, 0.0],
     (1372, 1394, 1402, [121, 149, 175, 202, 229]), '#F8766D', 932, 679, clip_right=1699)
gsea((81, 813, 815, 1083, 1086, 1177, 1180, 1360), 'Enriched in BAM high group', 799,
     C_TERMS, C_ES_X, C_ES_Y, C_TICKS, C_SPANS, C_ROWS, (-0.094, 0.856), [0.0, 0.2, 0.4, 0.6, 0.8],
     (518, 540, 548, [813, 841, 868, 896, 923]), '#00BF7D', 48, 1383)
gsea((971, 1698, 808, 1076, 1079, 1170, 1173, 1353), 'Enriched in BAM low group', 794,
     D_TERMS, D_ES_X, D_ES_Y, D_TICKS, D_SPANS, D_ROWS, (-0.661, 0.053), [-0.6, -0.4, -0.2, 0.0],
     (1408, 1430, 1438, [807, 835, 862, 890, 917]), '#F8766D', 937, 1375, clip_right=1700)

ov.plot([1699, 1699], [89, 687], color='#DDDDDD', lw=0.8)


def oncoplot(n, runs, pct, side, side_max, tmb, parts, tmb_max, box, title, title_xy,
             group_col, legend_cols, group_leg, tmb_lab, sep_lw):
    mx0, mx1, my0, my1, ty0, ty1, sx0, sx1, gene_x, pct_x, gy0, gy1, glab_x, sax_y, clip_x0 = box
    mat = np.zeros((len(GENES), n))
    for r, lst in enumerate(runs):
        for s, w, t in lst:
            mat[r, s:s + w] = CODES.index(t) + 1
    axm = px_axes(mx0, my0, mx1, my1)
    cmap = ListedColormap(['#D4D4D4'] + VC_COL)
    axm.pcolormesh(np.arange(n + 1), np.arange(len(GENES) + 1), mat, cmap=cmap, vmin=-0.5, vmax=7.5,
                   edgecolors='none', antialiased=False)
    axm.vlines(np.arange(1, n), 0, len(GENES), color='white', lw=sep_lw, alpha=0.55)
    axm.hlines(np.arange(1, len(GENES)), 0, n, color='white', lw=1.4)
    axm.set_xlim(0, n)
    axm.set_ylim(len(GENES), 0)
    axm.axis('off')

    # TMB bars
    axt = px_axes(mx0, ty0, mx1, ty1)
    tot = np.array(tmb, dtype=float)
    low = np.zeros(n)
    top = np.zeros(n)
    low_col = [VC_COL[0]] * n
    for c, v, t in parts:
        if t == 'N':
            top[c] = v
        else:
            low[c] = v
            low_col[c] = VC_COL[CODES.index(t)]
    mid = tot - low - top
    xs = np.arange(n)
    axt.bar(xs, low, width=1, align='edge', color=low_col, lw=0)
    axt.bar(xs, mid, bottom=low, width=1, align='edge', color=VC_COL[0], lw=0)
    axt.bar(xs, top, bottom=low + mid, width=1, align='edge', color=VC_COL[2], lw=0)
    axt.set_xlim(0, n)
    axt.set_ylim(0, tmb_max)
    axt.set_xticks([])
    axt.set_yticks([0, tmb_max])
    axt.set_yticklabels(['0', str(tmb_max)])
    for s in ['top', 'right', 'bottom']:
        axt.spines[s].set_visible(False)
    axt.spines['left'].set_position(('outward', 5.5))
    axt.spines['left'].set_linewidth(0.8)
    axt.tick_params(axis='y', labelsize=9, length=4, width=0.8, pad=2, labelcolor='#333333')
    ov.text(tmb_lab[0], tmb_lab[1], 'TMB', rotation=90, fontsize=7.5, ha='center', va='center',
            color='#333333')

    # side bars
    axs = px_axes(sx0, my0, sx1, my1)
    for r in range(len(GENES)):
        left = 0
        for k in range(7):
            if side[r][k]:
                axs.barh(r + 0.5, side[r][k], left=left, height=0.86, color=VC_COL[k], lw=0)
                left += side[r][k]
    axs.set_xlim(0, side_max)
    axs.set_ylim(len(GENES), 0)
    axs.axis('off')
    ov.plot([sx0, sx0, sx1, sx1], [sax_y - 7, sax_y, sax_y, sax_y - 7], color='#333333', lw=0.9)
    ov.text(sx0, sax_y - 24, '0', fontsize=9, ha='center', va='center', color='#333333')
    ov.text(sx1, sax_y - 24, str(side_max), fontsize=9, ha='center', va='center', color='#333333')
    ov.text((sx0 + sx1) / 2, sax_y - 10, 'No. of samples', fontsize=8.7, ha='center', va='center',
            color='#333333')

    rh = (my1 - my0) / len(GENES)
    for r, g in enumerate(GENES):
        yc = my0 + (r + 0.5) * rh
        t = ov.text(gene_x, yc, g, fontsize=12.5, style='italic', ha='right', va='center')
        clip_text(t, clip_x0, W)
        ov.text(pct_x, yc, pct[r], fontsize=12.5, ha='left', va='center')

    ov.text(title_xy[0], title_xy[1], title, fontsize=12.5, fontweight='bold', ha='center', va='center')
    ov.add_patch(Rectangle((mx0, gy0), mx1 - mx0, gy1 - gy0, facecolor=group_col, lw=0))
    ov.text(glab_x, (gy0 + gy1) / 2, 'Group', fontsize=12.5, ha='left', va='center', color='#333333')

    for sq_x, tx, items in legend_cols:
        for name, y in items:
            col = VC_COL[VC_NAMES.index(name)]
            ov.add_patch(Rectangle((sq_x - 4, y - 4), 8, 8, facecolor=col, lw=0))
            ov.text(tx, y, name, fontsize=12.5, ha='left', va='center', color='#222222')
    gx, gsq, gtx, gty, gys = group_leg
    ov.text(gx, gty, 'Group', fontsize=12.5, ha='left', va='center', color='#333333')
    for (name, col), y in zip([('BAM high', '#FF0000'), ('BAM low', '#0A6CFF')], gys):
        ov.add_patch(Rectangle((gsq - 4, y - 4), 8, 8, facecolor=col, lw=0))
        ov.text(gtx, y, name, fontsize=12.5, ha='left', va='center', color='#222222')


oncoplot(242, E_RUNS, E_PCT, E_SIDE, 74, E_TMB, E_TMB_PARTS, 1139,
         (136, 611, 1627, 2053, 1518, 1617, 661, 797, 130, 613, 2062, 2097, 618, 1621, 53),
         'Altered in 209 (86.36%) of 242 samples.', (433, 1490), '#FF0000',
         [(76, 92, [('Missense_Mutation', 2115), ('Frame_Shift_Del', 2135), ('Nonsense_Mutation', 2155),
                    ('Frame_Shift_Ins', 2176)]),
          (263, 279, [('In_Frame_Ins', 2115), ('In_Frame_Del', 2135), ('Multi_Hit', 2155)])],
         (470, 485, 500, 2114, [2141, 2161]), (95, 1568), 0.3)
oncoplot(119, F_RUNS, F_PCT, F_SIDE, 43, F_TMB, F_TMB_PARTS, 913,
         (1042, 1521, 1621, 2050, 1512, 1612, 1572, 1709, 1037, 1523, 2059, 2094, 1529, 1615, 960),
         'Altered in 100 (84.03%) of 119 samples.', (1342, 1484), '#0A6CFF',
         [(983, 998, [('Missense_Mutation', 2113), ('Frame_Shift_Ins', 2133), ('Nonsense_Mutation', 2153)]),
          (1170, 1186, [('Frame_Shift_Del', 2113), ('Multi_Hit', 2133)])],
         (1379, 1394, 1410, 2111, [2138, 2158]), (1001, 1562), 0.5)

ov.plot([53, 53], [1484, 2200], color='#DDDDDD', lw=0.8)
ov.plot([959, 959], [1477, 2185], color='#DDDDDD', lw=0.8)

for lab, x, y in [('A', 6, 40), ('B', 893, 40), ('C', 8, 751), ('D', 893, 747), ('E', 10, 1470), ('F', 895, 1469)]:
    ov.text(x, y, lab, fontsize=27, ha='left', va='baseline')

fig.savefig('out.png', dpi=100)
